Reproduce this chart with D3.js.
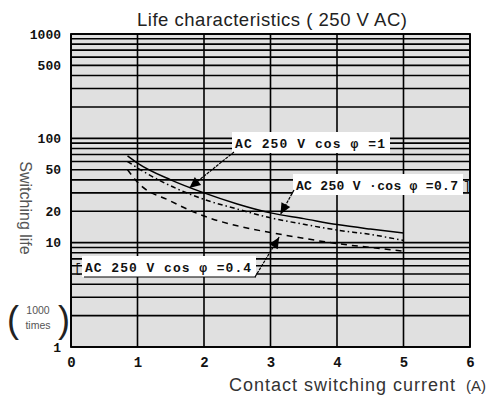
<!DOCTYPE html>
<html><head><meta charset="utf-8">
<script src="https://cdn.jsdelivr.net/npm/d3@7"></script>
<style>html,body{margin:0;padding:0;background:#fff;}svg{display:block;}</style>
</head><body>
<script>
// ---- data ----
const xTicks = [0, 1, 2, 3, 4, 5, 6];
const yTickLabels = [1, 10, 20, 50, 100, 500, 1000];
const seriesNames = ["AC 250 V cos \u03c6 =1", "AC 250 V \u00b7cos \u03c6 =0.7", "AC 250 V cos \u03c6 =0.4"];
const currentA = [0.85, 1, 1.5, 2, 2.5, 3, 3.5, 4, 4.5, 5];
const lifeCos10 = [68, 58, 40, 30, 23.5, 19.3, 17, 14.9, 13.5, 12.4];
const lifeCos07 = [60, 52, 35, 26, 21, 17.3, 15, 13.2, 12, 10.5];
const lifeCos04 = [50, 38, 25, 18, 14.5, 12.5, 11, 9.8, 9, 8.3];
const title = "Life characteristics ( 250 V AC)";
const xTitle = "Contact switching current";
const yTitle = "Switching life";

const W = 495, H = 396;
const svg = d3.select("body").append("svg").attr("width", W).attr("height", H);
const x = d3.scaleLinear().domain([0, 6]).range([71, 470]);
const y = d3.scaleLog().domain([1, 1000]).range([347, 34]);
const sans = "Liberation Sans, Arial, sans-serif";
const mono = "Liberation Mono, DejaVu Sans Mono, monospace";

// plot background
svg.append("rect").attr("x", x(0)).attr("y", y(1000)).attr("width", x(6) - x(0)).attr("height", y(1) - y(1000))
  .attr("fill", "#e0e0e0");

// grid
const gy = y.ticks(30);
svg.append("g").selectAll("line").data(gy).join("line")
  .attr("x1", x(0)).attr("x2", x(6)).attr("y1", d => y(d)).attr("y2", d => y(d))
  .attr("stroke", "#000").attr("stroke-width", 1.6);
svg.append("g").selectAll("line").data(xTicks).join("line")
  .attr("y1", y(1)).attr("y2", y(1000)).attr("x1", d => x(d)).attr("x2", d => x(d))
  .attr("stroke", "#000").attr("stroke-width", 1.6);
svg.append("rect").attr("x", x(0)).attr("y", y(1000)).attr("width", x(6) - x(0)).attr("height", y(1) - y(1000))
  .attr("fill", "none").attr("stroke", "#000").attr("stroke-width", 1.8);

// axes
const ax = svg.append("g").attr("transform", `translate(${x(0)},0)`)
  .call(d3.axisLeft(y).tickValues(yTickLabels).tickFormat(d3.format("d")).tickSize(0).tickPadding(10));
ax.select(".domain").remove();
ax.selectAll("text").attr("font-family", mono).attr("font-size", 13)
  .attr("font-weight", "bold").attr("fill", "#111");
const bx = svg.append("g").attr("transform", `translate(0,${y(1)})`)
  .call(d3.axisBottom(x).tickValues(xTicks).tickFormat(d3.format("d")).tickSize(0).tickPadding(10));
bx.select(".domain").remove();
bx.selectAll("text").attr("font-family", mono).attr("font-size", 14)
  .attr("font-weight", "bold").attr("fill", "#111");

// titles
svg.append("text").attr("x", 272).attr("y", 26).attr("text-anchor", "middle")
  .attr("font-family", sans).attr("font-size", 18.5).attr("fill", "#222")
  .attr("textLength", 270).text(title);
svg.append("text").attr("x", 229).attr("y", 391)
  .attr("font-family", sans).attr("font-size", 18).attr("fill", "#333")
  .attr("textLength", 226).text(xTitle);
svg.append("text").attr("x", 466).attr("y", 391)
  .attr("font-family", sans).attr("font-size", 15).attr("fill", "#333").text("(A)");
svg.append("text").attr("transform", "translate(20,208) rotate(90)").attr("text-anchor", "middle")
  .attr("font-family", sans).attr("font-size", 16).attr("fill", "#555").text(yTitle);
// (1000 times)
svg.append("text").attr("x", 13).attr("y", 332).attr("text-anchor", "middle")
  .attr("font-family", sans).attr("font-size", 36).attr("fill", "#222").text("(");
svg.append("text").attr("x", 64).attr("y", 332).attr("text-anchor", "middle")
  .attr("font-family", sans).attr("font-size", 36).attr("fill", "#222").text(")");
svg.append("text").attr("x", 38).attr("y", 314).attr("text-anchor", "middle")
  .attr("font-family", sans).attr("font-size", 10.5).attr("fill", "#555").text("1000");
svg.append("text").attr("x", 38).attr("y", 329).attr("text-anchor", "middle")
  .attr("font-family", sans).attr("font-size", 10.5).attr("fill", "#555").text("times");

// curves
const line = d3.line().x(d => x(d[0])).y(d => y(d[1])).curve(d3.curveMonotoneX);
const series = [
  {vals: lifeCos10, dash: null},
  {vals: lifeCos07, dash: "5,3,1.5,3"},
  {vals: lifeCos04, dash: "6,5"}
];
series.forEach(s => {
  svg.append("path").attr("d", line(currentA.map((c, i) => [c, s.vals[i]])))
    .attr("fill", "none").attr("stroke", "#000").attr("stroke-width", 1.5)
    .attr("stroke-dasharray", s.dash);
});
// end bracket at x=5
svg.append("line").attr("x1", x(5)).attr("x2", x(5)).attr("y1", y(13)).attr("y2", y(8)).attr("stroke", "#000").attr("stroke-width", 1);

// annotations
function arrow(x1, y1, x2, y2) {
  svg.append("line").attr("x1", x1).attr("y1", y1).attr("x2", x2).attr("y2", y2)
    .attr("stroke", "#000").attr("stroke-width", 1.2).attr("stroke-dasharray", "3,1");
  const a = Math.atan2(y2 - y1, x2 - x1), L = 11, w = 5;
  const p = [[x2, y2],
    [x2 - L * Math.cos(a) + w * Math.sin(a), y2 - L * Math.sin(a) - w * Math.cos(a)],
    [x2 - L * Math.cos(a) - w * Math.sin(a), y2 - L * Math.sin(a) + w * Math.cos(a)]];
  svg.append("polygon").attr("points", p.map(q => q.join(",")).join(" ")).attr("fill", "#000");
}
function label(bx, by, bw, bh, txt) {
  svg.append("rect").attr("x", bx).attr("y", by).attr("width", bw).attr("height", bh).attr("fill", "#fff");
  svg.append("text").attr("x", bx + 3).attr("y", by + bh - 5).attr("font-family", mono).attr("font-size", 13)
    .attr("font-weight", "bold").attr("fill", "#111").attr("textLength", bw - 8).text(txt);
}
label(232, 132, 158, 21, seriesNames[0]);
arrow(234, 152, x(1.78), y(33.5));
label(293, 174, 170, 21, seriesNames[1]);
svg.append("text").attr("x", 463).attr("y", 190).attr("font-family", mono).attr("font-size", 13).attr("fill", "#111").text("]");
arrow(294, 190, x(3.15), y(18.7));
label(82, 256, 174, 21, seriesNames[2]);
svg.append("text").attr("x", 74).attr("y", 272).attr("font-family", mono).attr("font-size", 13).attr("fill", "#111").text("[");
svg.append("line").attr("x1", 84).attr("x2", 256).attr("y1", 277).attr("y2", 277).attr("stroke", "#000").attr("stroke-width", 1);
arrow(255, 277, x(3.13), y(11.3));
</script>
</body></html>
